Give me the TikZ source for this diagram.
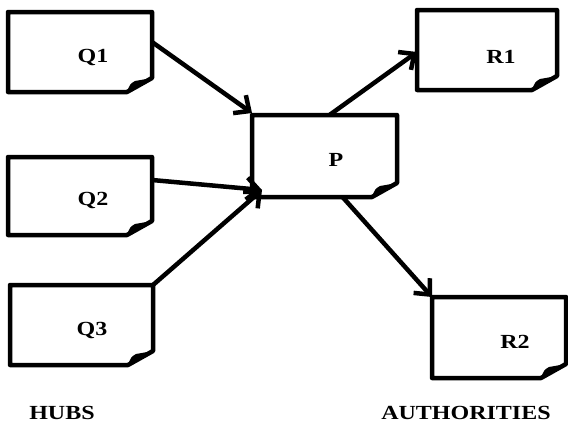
\documentclass[tikz,border=0pt]{standalone}
\usepackage{graphicx}
\usepackage{fontspec}
\setmainfont{Liberation Serif}
\usetikzlibrary{arrows.meta, positioning}

% page with a folded bottom right corner
\newcommand{\foldpage}[1]{%
  \draw[line width=4.5pt, line join=round] (#1.north west) -- (#1.north east)
    -- ([yshift=14pt]#1.south east) -- ([xshift=-25pt]#1.south east)
    -- (#1.south west) -- cycle;
  \fill ([xshift=-25pt]#1.south east) .. controls ([shift={(-22pt,8pt)}]#1.south east)
    .. ([shift={(-17pt,11pt)}]#1.south east) -- ([yshift=14pt]#1.south east) -- cycle;
}
\newcommand{\wide}[1]{\scalebox{1.2}[1]{#1}}

\begin{document}
\begin{tikzpicture}[x=1pt, y=-1pt,
  page/.style={minimum width=#1, minimum height=80pt, inner sep=0pt, outer sep=0pt},
  lbl/.style={font=\fontsize{20}{24}\selectfont\bfseries, inner sep=0pt},
  link/.style={line width=4.5pt, -{Straight Barb[length=12pt, width=22pt]}}]
  \useasboundingbox (0,0) rectangle (568,423);

  \node[page=144pt] (q1) at (80,52) {};
  \node[page=144pt, minimum height=78pt] (q2) at (80,196) {};
  \node[page=143pt] (q3) at (81.5,325) {};
  \node[page=145pt, minimum height=82pt] (p) at (324.5,156) {};
  \node[page=140pt] (r1) at (487,50) {};
  \node[page=134pt, minimum height=81pt] (r2) at (499,337.5) {};
  \foreach \n in {q1,q2,q3,p,r1,r2} {\foldpage{\n}}

  \node[lbl] (q1txt) at (93,57) {\wide{Q1}};
  \node[lbl] (q2txt) at (93,200) {\wide{Q2}};
  \node[lbl] (q3txt) at (92,330) {\wide{Q3}};
  \node[lbl] (ptxt) at (336,160) {\wide{P}};
  \node[lbl] (r1txt) at (501,57) {\wide{R1}};
  \node[lbl] (r2txt) at (515,342) {\wide{R2}};
  \node[lbl] (hubs) at (62,413) {\wide{HUBS}};
  \node[lbl] (auth) at (466,413) {\wide{AUTHORITIES}};

  \coordinate (pin) at (262,190);
  \draw[link] ([yshift=10pt]q1.east) -- ([yshift=2pt]p.north west);
  \draw[link] ([yshift=16pt]q2.east) -- (pin);
  \draw[link] (q3.north east) -- (pin);
  \draw[link] ([xshift=5pt]p.north) -- ([yshift=-2pt]r1.west);
  \draw[link] ([xshift=18pt]p.south) -- (r2.north west);
\end{tikzpicture}
\end{document}
